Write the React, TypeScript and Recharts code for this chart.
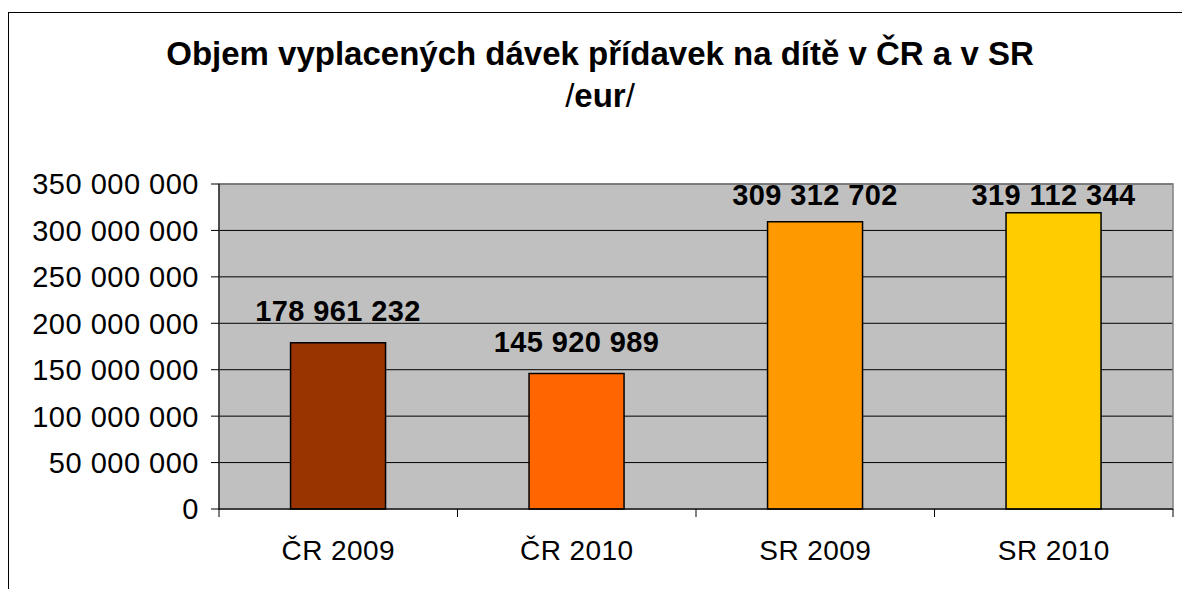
import React from 'react';
import { BarChart, Bar, XAxis, YAxis, CartesianGrid, LabelList, Cell, ReferenceArea } from 'recharts';

const categories = ['ČR 2009', 'ČR 2010', 'SR 2009', 'SR 2010'];
const values = [178961232, 145920989, 309312702, 319112344];
const colors = ['#993300', '#FF6600', '#FF9900', '#FFCC00'];
const yTicks = [0, 50000000, 100000000, 150000000, 200000000, 250000000, 300000000, 350000000];
const titleLine1 = 'Objem vyplacených dávek přídavek na dítě v ČR a v SR';

const data = categories.map((c, i) => ({ name: c, value: values[i] }));

const W = 1182;
const H = 589;
const TOP = 184;
const FONT = '"Liberation Sans", Arial, Helvetica, sans-serif';
const TICK_SIZE = 8;
const TICK_MARGIN = 24;

const fmt = (v: number) => String(v).replace(/\B(?=(\d{3})+(?!\d))/g, ' ');

const ValueLabel = (props: any) => {
  const { x, y, width, value } = props;
  const baseline = Math.max(y - 22, TOP + 21);
  return (
    <text x={x + width / 2} y={baseline} textAnchor="middle" fontFamily={FONT} fontSize={29} fontWeight="bold" letterSpacing={0.4} fill="#000">
      {fmt(value)}
    </text>
  );
};

const XTick = (props: any) => {
  const { x, y, payload, index } = props;
  const axisY = y - TICK_SIZE - TICK_MARGIN;
  const off = payload && payload.offset ? payload.offset : 0;
  const last = index === categories.length - 1;
  return (
    <g>
      <line x1={x - off} x2={x - off} y1={axisY} y2={axisY + TICK_SIZE} stroke="#000" strokeWidth={1} />
      {last && <line x1={x + off} x2={x + off} y1={axisY} y2={axisY + TICK_SIZE} stroke="#000" strokeWidth={1} />}
      <text x={x} y={axisY + 51} textAnchor="middle" fontFamily={FONT} fontSize={28} letterSpacing={0.4} fill="#000">
        {payload.value}
      </text>
    </g>
  );
};

const YTick = (props: any) => {
  const { x, y, payload } = props;
  return (
    <text x={x} y={y} dy="0.36em" textAnchor="end" fontFamily={FONT} fontSize={29} letterSpacing={0.5} fill="#000">
      {fmt(payload.value)}
    </text>
  );
};

export default function App() {
  return (
    <div style={{ position: 'absolute', left: 0, top: 0, width: W, height: H, background: '#fff' }}>
      <div style={{ position: 'absolute', left: 8, top: 12, right: -5, bottom: -5, borderLeft: '1.5px solid #000', borderTop: '1.5px solid #000' }} />
      <div style={{ position: 'absolute', left: 9, top: 0, width: W, textAlign: 'center', fontFamily: FONT, fontWeight: 'bold', fontSize: 33, lineHeight: '42px', paddingTop: 33 }}>
        <div>{titleLine1}</div>
        <div>
          <span style={{ fontWeight: 'normal' }}>/</span>eur<span style={{ fontWeight: 'normal' }}>/</span>
        </div>
      </div>
      <div style={{ position: 'absolute', left: 0, top: 0 }}>
        <BarChart width={W} height={H} data={data} margin={{ top: TOP, right: 9, bottom: 0, left: 8 }} barCategoryGap="30%">
          <CartesianGrid vertical={false} stroke="#000" strokeWidth={1} fill="#C0C0C0" fillOpacity={1} />
          <ReferenceArea y1={0} y2={350000000} fill="none" stroke="#808080" strokeWidth={1.5} />
          <YAxis
            width={211}
            domain={[0, 350000000]}
            ticks={yTicks}
            interval={0}
            tickSize={TICK_SIZE}
            tickMargin={12}
            axisLine={{ stroke: '#000', strokeWidth: 1 }}
            tickLine={{ stroke: '#000', strokeWidth: 1 }}
            tick={<YTick />}
          />
          <XAxis
            dataKey="name"
            height={80}
            interval={0}
            tickSize={TICK_SIZE}
            tickMargin={TICK_MARGIN}
            tickLine={false}
            axisLine={{ stroke: '#000', strokeWidth: 1 }}
            tick={<XTick />}
          />
          <Bar dataKey="value" isAnimationActive={false} stroke="#000" strokeWidth={1.5}>
            {data.map((d, i) => (
              <Cell key={d.name} fill={colors[i]} />
            ))}
            <LabelList dataKey="value" content={<ValueLabel />} />
          </Bar>
        </BarChart>
      </div>
    </div>
  );
}
